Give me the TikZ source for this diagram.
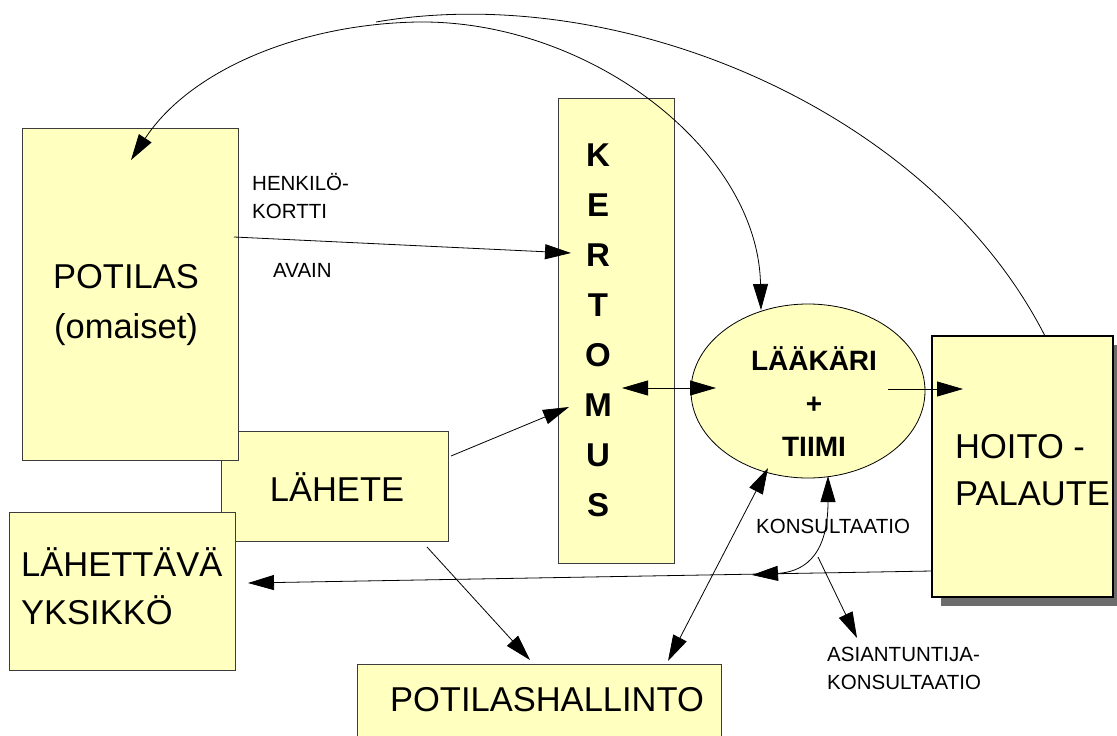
\documentclass[tikz,border=0pt]{standalone}
\usepackage{fontspec}
\setmainfont{Liberation Sans}
\usetikzlibrary{arrows.meta,shapes.geometric}
\definecolor{boxfill}{RGB}{255,255,192}
\definecolor{boxline}{RGB}{60,60,60}
\tikzset{
  x=1pt, y=-1pt,
  box/.style={draw=boxline, line width=0.9pt, fill=boxfill, rectangle, inner sep=0pt},
  bigtxt/.style={inner sep=0pt, font=\fontsize{34.5}{50}\selectfont},
  smalltxt/.style={inner sep=0pt, align=left, font=\fontsize{20.5}{28}\selectfont},
  conn/.style={draw=black, line width=0.8pt},
  tip/.style={-{Triangle[length=26pt,width=15pt]}},
  tips/.style={{Triangle[length=26pt,width=15pt]}-{Triangle[length=26pt,width=15pt]}},
}
\begin{document}
\begin{tikzpicture}
\useasboundingbox (0,0) rectangle (1117,736);
% boxes
\node[box, minimum width=227pt, minimum height=110pt] (lahete) at (334.5,486) {};
\node[bigtxt] (laheteT) at (337,487) {LÄHETE};
\node[box, minimum width=216pt, minimum height=332pt] (potilas) at (130,294) {};
\node[bigtxt, align=center] (potilasT) at (126,305) {POTILAS\\(omaiset)};
\node[box, minimum width=226pt, minimum height=158pt] (lahettava) at (122,591) {};
\node[bigtxt, align=left, anchor=west, font=\fontsize{34.5}{48}\selectfont] (lahettavaT) at (21,586) {LÄHETTÄVÄ\\YKSIKKÖ};
\node[box, minimum width=364pt, minimum height=96pt] (hallinto) at (539,712) {};
\node[bigtxt] (hallintoT) at (547,700) {POTILASHALLINTO};
\node[box, minimum width=116pt, minimum height=465pt] (kertomus) at (616,330.5) {};
\node[inner sep=0pt, align=center, font=\bfseries\fontsize{33}{50}\selectfont] (kertomusT) at (598,330) {K\\E\\R\\T\\O\\M\\U\\S};
\node[draw=black, line width=0.8pt, fill=boxfill, ellipse, minimum width=234pt, minimum height=174pt, inner sep=0pt] (laakari) at (808,391) {};
\node[inner sep=0pt, align=center, font=\bfseries\fontsize{28}{43}\selectfont] (laakariT) at (814,402) {LÄÄKÄRI\\+\\TIIMI};
\fill[gray!85!black] (941,345) rectangle (1122,606);
\node[box, draw=black, line width=2pt, minimum width=181pt, minimum height=261pt] (hoito) at (1022.5,466.5) {};
\node[bigtxt, align=left, anchor=west, font=\fontsize{34.5}{47}\selectfont] (hoitoT) at (955,470) {HOITO -\\PALAUTE};
% labels
\node[smalltxt, anchor=west] (henkilo) at (252,196) {HENKILÖ-\\KORTTI};
\node[smalltxt, anchor=west] (avain) at (273,270) {AVAIN};
\node[smalltxt, anchor=west] (konsT) at (756,526) {KONSULTAATIO};
\node[smalltxt, anchor=west] (asianT) at (827,668) {ASIANTUNTIJA-\\KONSULTAATIO};
% connector end points
\coordinate (a1) at (234,237); \coordinate (a2) at (571,253);
\coordinate (b1) at (451,456); \coordinate (b2) at (569,407);
\coordinate (c1) at (622,388); \coordinate (c2) at (716,388);
\coordinate (d1) at (888,389); \coordinate (d2) at (963,389);
\coordinate (e1) at (932,571); \coordinate (e2) at (248,583);
\coordinate (f1) at (828,476); \coordinate (f2) at (752,575);
\coordinate (g1) at (818,557); \coordinate (g2) at (857,638);
\coordinate (h1) at (427,547); \coordinate (h2) at (530,660);
\coordinate (i1) at (768,468); \coordinate (i2) at (668,661);
\coordinate (j1) at (761,310); \coordinate (jm) at (418,22); \coordinate (j2) at (131,160);
\coordinate (k1) at (1045,336); \coordinate (k2) at (376,22);
% connectors
\draw[conn, tip] (a1) -- (a2);
\draw[conn, tip] (b1) -- (b2);
\draw[conn, tips] (c1) -- (c2);
\draw[conn, tip] (d1) -- (d2);
\draw[conn, tip] (e1) -- (e2);
\draw[conn, tips] (f1) .. controls (828,560) and (800,572) .. (f2);
\draw[conn, tip] (g1) -- (g2);
\draw[conn, tip] (h1) -- (h2);
\draw[conn, tips] (i1) -- (i2);
\draw[conn, tips] (j1) .. controls (758,150) and (590,20) .. (jm) .. controls (300,24) and (190,70) .. (j2);
\draw[conn] (k1) .. controls (930,110) and (620,-20) .. (k2);
\end{tikzpicture}
\end{document}
